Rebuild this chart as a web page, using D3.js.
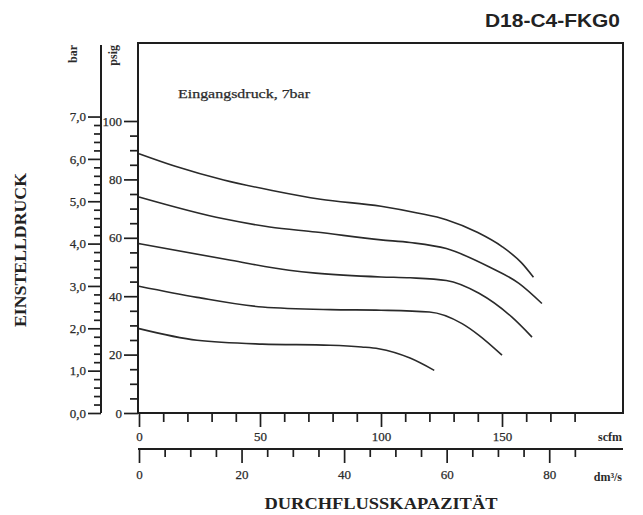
<!DOCTYPE html>
<html><head><meta charset="utf-8">
<script src="https://cdn.jsdelivr.net/npm/d3@7"></script>
<style>body{margin:0;background:#fff}svg{display:block}</style>
</head><body>
<script>
// ---- data (scfm, psig) ----
const curve1 = [[0,88.8],[15,84.5],[35,79.8],[55,76.2],[75,73.2],[100,70.8],[115,68.5],[127,66.2],[140,61.8],[150,57.0],[158,51.5],[163,46.5]];
const curve2 = [[0,74.0],[35,66.5],[54,63.7],[73,62.0],[100,59.3],[112,58.4],[127,56.3],[145,49.9],[157,44.4],[166.5,37.5]];
const curve3 = [[0,58.0],[38,52.3],[62,48.9],[73,47.9],[100,46.6],[112,46.3],[127,45.4],[140.5,41.0],[154,32.9],[162.4,26.0]];
const curve4 = [[0,43.4],[24,39.6],[51,36.3],[79,35.4],[100,35.2],[120,34.6],[133.5,30.6],[140.5,26.6],[150,19.8]];
const curve5 = [[0,28.9],[24,24.9],[51,23.6],[79,23.2],[92,22.6],[99,22.0],[112,18.8],[122,14.6]];
const curves = [curve1, curve2, curve3, curve4, curve5];

const psigTicks = d3.range(0, 101, 5);
const psigLabels = [0, 20, 40, 60, 80, 100];
const barTicks = d3.range(0, 36).map(i => +(i * 0.2).toFixed(1));
const barLabels = [0, 1, 2, 3, 4, 5, 6, 7];
const scfmTicks = d3.range(0, 181, 10);
const scfmLabels = [0, 50, 100, 150];
const dmTicks = d3.range(0, 86, 5);
const dmLabels = [0, 20, 40, 60, 80];

const title = "D18-C4-FKG0";
const note = "Eingangsdruck, 7bar";
const yTitle = "EINSTELLDRUCK";
const xTitle = "DURCHFLUSSKAPAZITÄT";

// ---- layout ----
const W = 643, H = 515;
const ink = "#1e1e1e", txt = "#2b2b2b";
const serif = "'Liberation Serif','Times New Roman',serif";

const x = d3.scaleLinear().domain([0, 200]).range([139, 623]);
const xd = d3.scaleLinear().domain([0, 200 * 0.47195]).range([139, 623]);
const y = d3.scaleLinear().domain([0, 100]).range([413, 121]);
const yb = d3.scaleLinear().domain([0, 100 / 14.5038]).range([413, 121]);

const svg = d3.select("body").append("svg").attr("width", W).attr("height", H)
  .style("font-family", serif);

const frameTop = 43, frameLeft = 138, frameRight = 623, frameBottom = 413;

// frame
svg.append("rect").attr("x", frameLeft).attr("y", frameTop)
  .attr("width", frameRight - frameLeft).attr("height", frameBottom - frameTop)
  .attr("fill", "none").attr("stroke", ink).attr("stroke-width", 2);

function styleAxis(g, majorSet, majorLen, minorLen, dir) {
  g.select(".domain").remove();
  g.selectAll(".tick line").attr("stroke", ink).attr("stroke-width", 1.7)
    .each(function(d) {
      const len = majorSet.includes(d) ? majorLen : minorLen;
      if (dir === "left") d3.select(this).attr("x2", -len);
      else d3.select(this).attr("y2", len);
    });
  g.selectAll(".tick text").attr("fill", txt).style("font-size", "13px").style("font-family", serif)
    .attr("stroke", txt).attr("stroke-width", 0.25);
}

// psig axis (left edge of frame)
const gP = svg.append("g").attr("transform", `translate(${frameLeft},0)`)
  .call(d3.axisLeft(y).tickValues(psigTicks).tickSize(14).tickPadding(2)
    .tickFormat(d => psigLabels.includes(d) ? d : ""));
styleAxis(gP, psigLabels, 14, 8, "left");

// bar axis
const barX = 101;
svg.append("line").attr("x1", barX).attr("x2", barX).attr("y1", 45).attr("y2", frameBottom)
  .attr("stroke", ink).attr("stroke-width", 2);
const gB = svg.append("g").attr("transform", `translate(${barX},0)`)
  .call(d3.axisLeft(yb).tickValues(barTicks).tickSize(13).tickPadding(2)
    .tickFormat(d => barLabels.includes(d) ? d3.format(".1f")(d).replace(".", ",") : ""));
styleAxis(gB, barLabels, 13, 7, "left");

// scfm axis
svg.append("line").attr("x1", frameLeft).attr("x2", frameRight).attr("y1", frameBottom).attr("y2", frameBottom)
  .attr("stroke", ink).attr("stroke-width", 2);
const gS = svg.append("g").attr("transform", `translate(0,${frameBottom})`)
  .call(d3.axisBottom(x).tickValues(scfmTicks).tickSize(14).tickPadding(5)
    .tickFormat(d => scfmLabels.includes(d) ? d : ""));
styleAxis(gS, scfmLabels, 14, 9, "bottom");

// dm3/s axis
const dmY = 449;
svg.append("line").attr("x1", frameLeft).attr("x2", frameRight).attr("y1", dmY).attr("y2", dmY)
  .attr("stroke", ink).attr("stroke-width", 2);
const gD = svg.append("g").attr("transform", `translate(0,${dmY})`)
  .call(d3.axisBottom(xd).tickValues(dmTicks).tickSize(14).tickPadding(7)
    .tickFormat(d => dmLabels.includes(d) ? d : ""));
styleAxis(gD, dmLabels, 14, 8, "bottom");

// unit labels
svg.append("text").attr("x", 622).attr("y", 441).attr("text-anchor", "end")
  .attr("fill", txt).style("font-size", "12px").style("font-weight", "bold").text("scfm");
svg.append("text").attr("x", 622).attr("y", 481).attr("text-anchor", "end")
  .attr("fill", txt).style("font-size", "12px").style("font-weight", "bold").text("dm³/s");
svg.append("text").attr("transform", "translate(77,45) rotate(-90)").attr("text-anchor", "end")
  .attr("fill", txt).style("font-size", "12px").style("font-weight", "bold").text("bar");
svg.append("text").attr("transform", "translate(117,45) rotate(-90)").attr("text-anchor", "end")
  .attr("fill", txt).style("font-size", "12px").style("font-weight", "bold").text("psig");

// curves
const line = d3.line().x(d => x(d[0])).y(d => y(d[1])).curve(d3.curveMonotoneX);
svg.append("g").selectAll("path").data(curves).join("path")
  .attr("d", line).attr("fill", "none").attr("stroke", "#2a2a2a").attr("stroke-width", 1.6);

// texts
svg.append("text").attr("x", 178).attr("y", 98).attr("fill", txt)
  .attr("stroke", txt).attr("stroke-width", 0.25)
  .style("font-size", "13px").attr("textLength", 132).attr("lengthAdjust", "spacingAndGlyphs").text(note);
svg.append("text").attr("x", 620).attr("y", 27).attr("text-anchor", "end").attr("fill", "#222")
  .style("font-family", "'Liberation Sans',Arial,sans-serif").style("font-weight", "bold")
  .style("font-size", "18px").attr("textLength", 135).attr("lengthAdjust", "spacingAndGlyphs").text(title);
svg.append("text").attr("x", 381).attr("y", 509).attr("text-anchor", "middle").attr("fill", "#222")
  .style("font-weight", "bold").style("font-size", "17px")
  .attr("textLength", 233).attr("lengthAdjust", "spacingAndGlyphs").text(xTitle);
svg.append("text").attr("transform", "translate(26,250) rotate(-90)").attr("text-anchor", "middle").attr("fill", "#222")
  .style("font-weight", "bold").style("font-size", "16px")
  .attr("textLength", 154).attr("lengthAdjust", "spacingAndGlyphs").text(yTitle);
</script>
</body></html>
